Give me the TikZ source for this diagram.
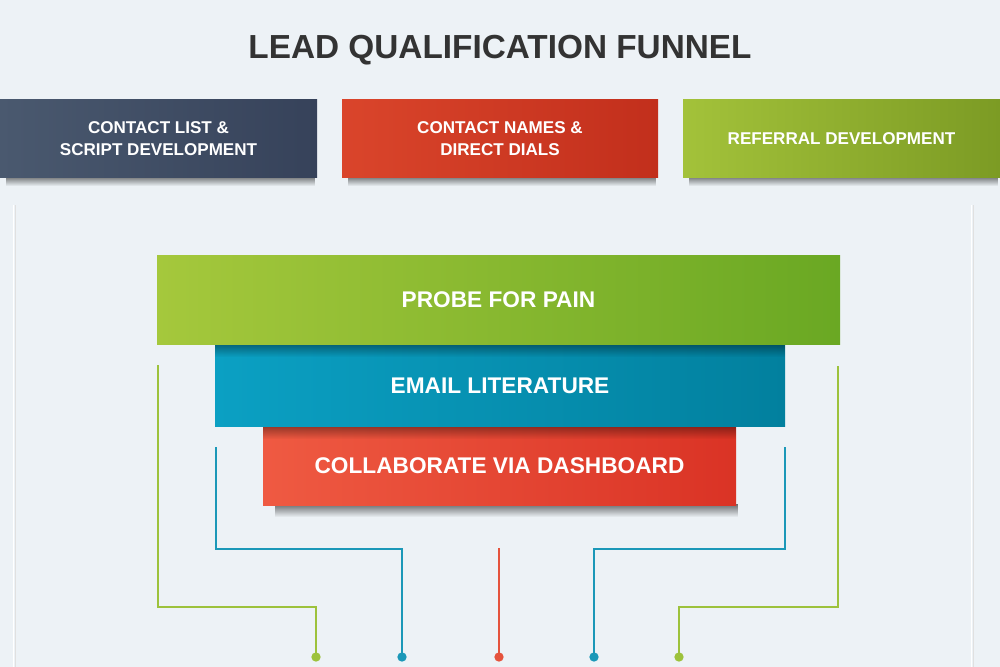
\documentclass[tikz,border=0pt]{standalone}
\usepackage{fontspec}
\setmainfont{Liberation Sans}
\usetikzlibrary{fadings}
\definecolor{bg}{HTML}{EDF2F6}
\definecolor{titlec}{HTML}{333333}
\definecolor{slateL}{HTML}{4A596F}
\definecolor{slateR}{HTML}{36425A}
\definecolor{redtL}{HTML}{DA452B}
\definecolor{redtR}{HTML}{C22F1C}
\definecolor{grtL}{HTML}{A3C23A}
\definecolor{grtR}{HTML}{7C9B24}
\definecolor{gfL}{HTML}{A5C83C}
\definecolor{gfM}{HTML}{A0C537}
\definecolor{gfR}{HTML}{6AA823}
\definecolor{bfL}{HTML}{0BA0C3}
\definecolor{bfR}{HTML}{02809E}
\definecolor{rfL}{HTML}{EF5A42}
\definecolor{rfR}{HTML}{DA3325}
\definecolor{gline}{HTML}{9DC23C}
\definecolor{bline}{HTML}{1B98B8}
\definecolor{rline}{HTML}{E5533D}
\tikzfading[name=fadedown, top color=transparent!0, bottom color=transparent!100]
\tikzset{
  topbox/.style={minimum width=237.75pt, minimum height=57.75pt, inner sep=0pt,
    text=white, font=\bfseries\fontsize{12.8}{16.5}\selectfont, align=center},
  funbox/.style={inner sep=0pt, text=white, font=\bfseries\fontsize{17}{20}\selectfont},
  conn/.style={line width=1.5pt},
  dot/.style={circle, inner sep=0pt, minimum size=7pt},
  shad/.style={fill=black, path fading=fadedown, fill opacity=0.55},
  innershad/.style={fill=black, path fading=fadedown, fill opacity=0.35}
}
\begin{document}
\begin{tikzpicture}[x=0.75pt,y=-0.75pt]
\useasboundingbox (0,0) rectangle (1000,667);
\fill[bg] (0,0) rectangle (1000,667);
% side rails
\draw[line width=1pt, color=black!12] (15.2,205) -- (15.2,667);
\draw[line width=1pt, color=white] (13.8,205) -- (13.8,667);
\draw[line width=1pt, color=black!12] (973.2,205) -- (973.2,667);
\draw[line width=1pt, color=white] (971.8,205) -- (971.8,667);
% title
\node[font=\bfseries\fontsize{25}{30}\selectfont, text=titlec] (title) at (500,50) {LEAD QUALIFICATION FUNNEL};
% top box shadows
\fill[shad] (6,176) rectangle (315,186);
\fill[shad] (348,176) rectangle (656,186);
\fill[shad] (689,176) rectangle (998,186);
% top boxes
\node[topbox, left color=slateL, right color=slateR] (b1) at (158.5,138.5) {CONTACT LIST \&\\SCRIPT DEVELOPMENT};
\node[topbox, left color=redtL, right color=redtR, minimum width=237pt] (b2) at (500,138.5) {CONTACT NAMES \&\\DIRECT DIALS};
\node[topbox, left color=grtL, right color=grtR] (b3) at (841.5,138.5) {REFERRAL DEVELOPMENT};
% red box bottom shadow
\fill[shad] (275,504) rectangle (738,517);
% funnel
\node[funbox, minimum width=512.25pt, minimum height=66.75pt, left color=gfL, middle color=gfM, right color=gfR] (probe) at (498.5,299.5) {PROBE FOR PAIN};
\node[funbox, minimum width=427.5pt, minimum height=60.75pt, left color=bfL, right color=bfR] (email) at (500,385.5) {EMAIL LITERATURE};
\node[funbox, minimum width=354.75pt, minimum height=58.5pt, left color=rfL, right color=rfR] (collab) at (499.5,466) {COLLABORATE VIA DASHBOARD};
% inner top shadows
\fill[innershad] (215,345) rectangle (785,357);
\fill[innershad] (263,427) rectangle (736,439);
% connector free ends
\coordinate (gls) at (158,365);
\coordinate (bls) at (216,447);
\coordinate (rcs) at (499,548);
\coordinate (brs) at (785,447);
\coordinate (grs) at (838,366);
% dots
\node[dot, fill=gline] (d1) at (316,657) {};
\node[dot, fill=bline] (d2) at (402,657) {};
\node[dot, fill=rline] (d3) at (499,657) {};
\node[dot, fill=bline] (d4) at (594,657) {};
\node[dot, fill=gline] (d5) at (679,657) {};
% connectors
\draw[conn, gline] (gls) -- (158,607) -| (d1.center);
\draw[conn, bline] (bls) -- (216,549) -| (d2.center);
\draw[conn, rline] (rcs) -- (d3.center);
\draw[conn, bline] (brs) -- (785,549) -| (d4.center);
\draw[conn, gline] (grs) -- (838,607) -| (d5.center);
\end{tikzpicture}
\end{document}
